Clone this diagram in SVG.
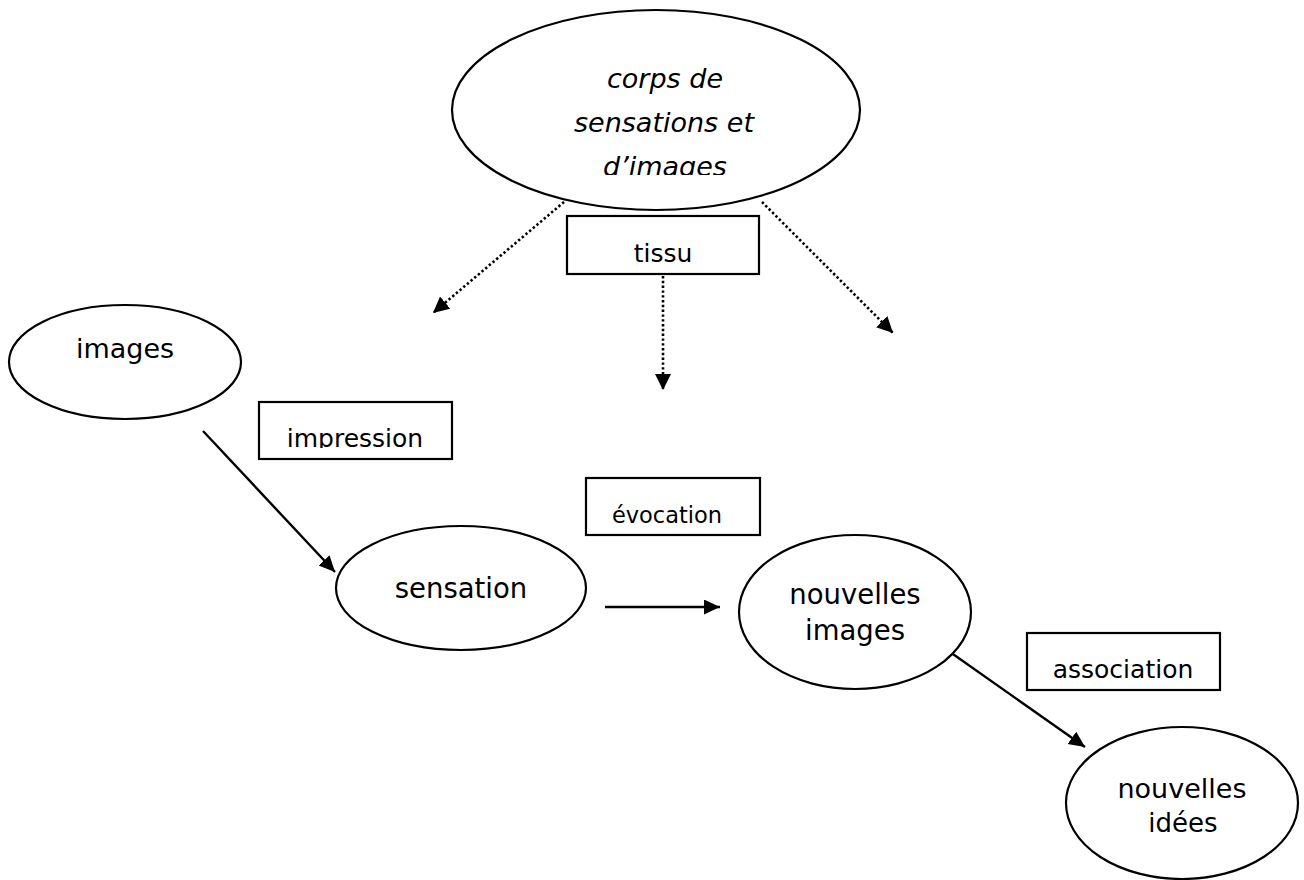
<svg xmlns="http://www.w3.org/2000/svg" width="1304" height="880" viewBox="0 0 1304 880">
  <defs>
    <style>
      .shape { fill: #ffffff; stroke: #000000; stroke-width: 2.2; }
      .label { font-family: "DejaVu Sans", Verdana, sans-serif; fill: #000000; text-anchor: middle; }
      .ital { font-style: italic; font-size: 27px; }
      .link { fill: none; stroke: #000000; stroke-width: 2.4; }
      .dotted { stroke-width: 2.6; stroke-dasharray: 2.4 2.4; }
    </style>
    <marker id="head" markerUnits="userSpaceOnUse" markerWidth="18" markerHeight="18" refX="16" refY="7.5" orient="auto">
      <path d="M0,0 L16,7.5 L0,15 z" fill="#000000"/>
    </marker>
    <marker id="head-lg" markerUnits="userSpaceOnUse" markerWidth="18" markerHeight="18" refX="16" refY="8" orient="auto">
      <path d="M0,0 L16,8 L0,16 z" fill="#000000"/>
    </marker>
    <clipPath id="clip-corps">
      <rect x="450" y="40" width="420" height="135"/>
    </clipPath>
    <clipPath id="clip-impression">
      <rect x="259" y="402" width="193" height="46"/>
    </clipPath>
  </defs>

  <rect width="1304" height="880" fill="#ffffff"/>

  <!-- connectors -->
  <g id="connectors">
    <line class="link dotted" x1="564" y1="202" x2="433" y2="313" marker-end="url(#head-lg)"/>
    <line class="link dotted" x1="762" y1="202" x2="893" y2="333" marker-end="url(#head-lg)"/>
    <line class="link dotted" x1="663" y1="276" x2="663" y2="390" marker-end="url(#head-lg)"/>
    <line class="link" x1="203" y1="431" x2="335" y2="572" marker-end="url(#head)"/>
    <line class="link" x1="605" y1="607" x2="720" y2="607" marker-end="url(#head)"/>
    <line class="link" x1="950" y1="652" x2="1085" y2="747" marker-end="url(#head)"/>
  </g>

  <!-- source body -->
  <g id="corps">
    <ellipse class="shape" cx="656" cy="110" rx="204" ry="100"/>
    <g clip-path="url(#clip-corps)">
      <text class="label ital" x="665" y="88">corps de</text>
      <text class="label ital" x="664" y="132">sensations et</text>
      <text class="label ital" x="665" y="176">d’images</text>
    </g>
  </g>

  <g id="tissu">
    <rect class="shape" x="567" y="216" width="192" height="58"/>
    <text class="label" x="663" y="262" font-size="25">tissu</text>
  </g>

  <g id="images">
    <ellipse class="shape" cx="125" cy="362" rx="116" ry="57"/>
    <text class="label" x="125" y="358" font-size="27">images</text>
  </g>

  <g id="impression">
    <rect class="shape" x="259" y="402" width="193" height="57"/>
    <text class="label" x="355" y="447" font-size="25" clip-path="url(#clip-impression)">impression</text>
  </g>

  <g id="sensation">
    <ellipse class="shape" cx="461" cy="588" rx="125" ry="62"/>
    <text class="label" x="461" y="598" font-size="27.5">sensation</text>
  </g>

  <g id="evocation">
    <rect class="shape" x="586" y="478" width="174" height="57"/>
    <text class="label" x="667" y="523" font-size="22.5">évocation</text>
  </g>

  <g id="nouvelles-images">
    <ellipse class="shape" cx="855" cy="612" rx="116" ry="77"/>
    <text class="label" x="855" y="604" font-size="27.5">nouvelles</text>
    <text class="label" x="855" y="640" font-size="27.5">images</text>
  </g>

  <g id="association">
    <rect class="shape" x="1027" y="633" width="193" height="57"/>
    <text class="label" x="1123" y="678" font-size="25">association</text>
  </g>

  <g id="nouvelles-idees">
    <ellipse class="shape" cx="1182" cy="803" rx="116" ry="76"/>
    <text class="label" x="1182" y="798" font-size="27">nouvelles</text>
    <text class="label" x="1183" y="832" font-size="26">idées</text>
  </g>
</svg>
